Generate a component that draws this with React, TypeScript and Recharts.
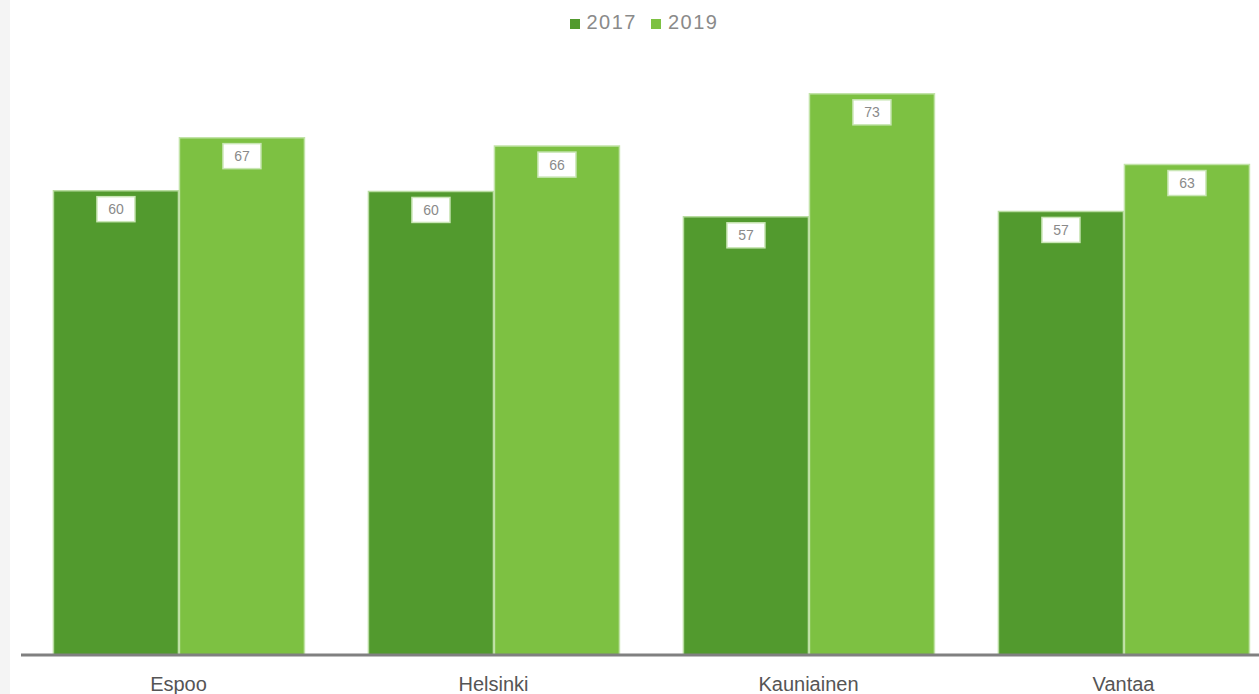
import React from "react";
import { BarChart, Bar, XAxis, YAxis, Legend, LabelList } from "recharts";

const categories = ["Espoo", "Helsinki", "Kauniainen", "Vantaa"];
const values2017 = [60.4, 60.3, 57.0, 57.7];
const values2019 = [67.3, 66.2, 73.0, 63.8];

const data = categories.map((name, i) => ({
  name,
  y2017: values2017[i],
  y2019: values2019[i],
}));

const FONT = "'Liberation Sans', Arial, sans-serif";

function ValueBox(props: any) {
  const { x, y, width, value } = props;
  const w = 38;
  const h = 25;
  const cx = x + width / 2;
  const top = y + 6;
  return (
    <g>
      <rect x={cx - w / 2} y={top} width={w} height={h} fill="#ffffff" stroke="#c9e6b5" strokeWidth={1.5} />
      <text
        x={cx}
        y={top + h / 2 + 5}
        textAnchor="middle"
        fontSize={14}
        fontFamily={FONT}
        fill="#8a8a8a"
      >
        {Math.floor(value)}
      </text>
    </g>
  );
}

export default function App() {
  return (
    <div
      style={{
        position: "absolute",
        left: 0,
        top: 0,
        width: 1259,
        height: 694,
        overflow: "hidden",
        background: "#fff",
      }}
    >
      <div style={{ position: "absolute", left: 0, top: 0, width: 10, height: 694, background: "#f4f4f4" }} />
      <BarChart
        width={1296}
        height={694}
        data={data}
        margin={{ top: 17, right: 15, bottom: 0, left: 21 }}
        barCategoryGap="10.3%"
        barGap={1}
      >
        <Legend
          verticalAlign="top"
          align="center"
          iconType="square"
          iconSize={10}
          wrapperStyle={{ top: 11, fontFamily: FONT, fontSize: 20, letterSpacing: 1.5 }}
          formatter={(v: string) => <span style={{ color: "#8a8a8a", marginLeft: 3, marginRight: 4 }}>{v}</span>}
        />
        <XAxis
          dataKey="name"
          height={39}
          axisLine={{ stroke: "#808080", strokeWidth: 3 }}
          tickLine={false}
          tick={{ fill: "#555", fontSize: 20, fontFamily: FONT }}
          tickMargin={16}
        />
        <YAxis hide domain={[0, 80]} />
        <Bar dataKey="y2017" name="2017" fill="#529a2e" stroke="#b8dca0" strokeWidth={1.5} isAnimationActive={false}>
          <LabelList dataKey="y2017" content={<ValueBox />} />
        </Bar>
        <Bar dataKey="y2019" name="2019" fill="#7dc142" stroke="#c2e3a8" strokeWidth={1.5} isAnimationActive={false}>
          <LabelList dataKey="y2019" content={<ValueBox />} />
        </Bar>
      </BarChart>
    </div>
  );
}
